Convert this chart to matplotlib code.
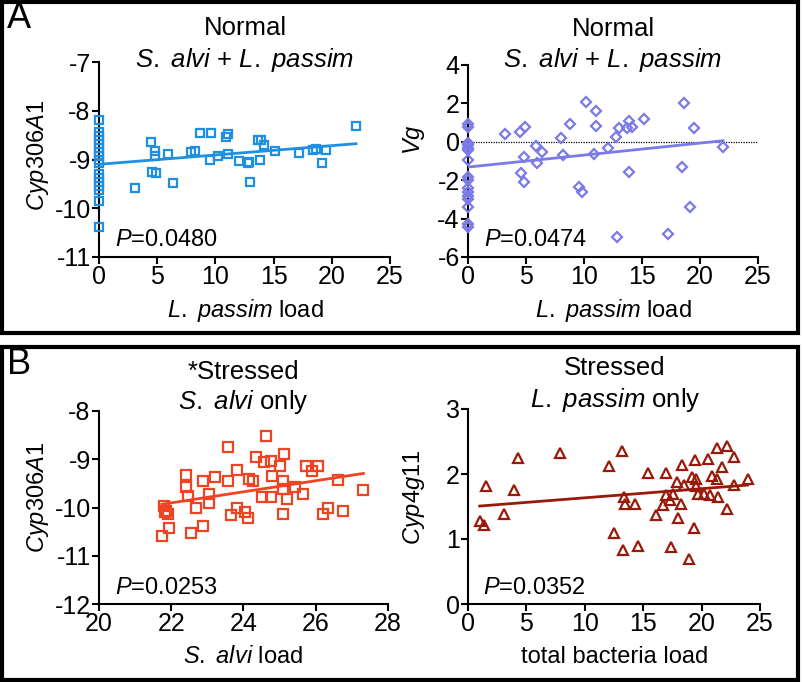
import matplotlib
matplotlib.use('Agg')
import matplotlib.pyplot as plt
import numpy as np
from matplotlib.patches import Rectangle

plt.rcParams['font.family'] = ['Liberation Sans', 'DejaVu Sans']
plt.rcParams['axes.unicode_minus'] = False
plt.rcParams['mathtext.fontset'] = 'custom'
plt.rcParams['mathtext.rm'] = 'Liberation Sans'
plt.rcParams['mathtext.it'] = 'Liberation Sans:italic'
plt.rcParams['font.size'] = 17

# A, left: Cyp306A1 vs L. passim load (normal)
a1_x = [0] * 17 + [3.07, 4.44, 4.59, 4.87, 4.8, 4.8, 5.96, 6.36, 7.94, 8.23, 8.69, 9.66,
                   9.55, 10.24, 10.87, 11.1, 11.04, 12.07, 12.76, 12.85, 13.0, 13.82, 13.62,
                   13.96, 14.16, 15.14, 17.2, 18.4, 18.68, 19.47, 19.12, 22.08]
a1_y = [-8.19, -8.44, -8.52, -8.60, -8.68, -8.76, -8.84, -8.92, -9.0, -9.08, -9.30, -9.38,
        -9.46, -9.54, -9.62, -9.85, -10.38,
        -9.58, -8.65, -9.26, -9.28, -8.83, -8.93, -8.89, -9.48, -8.84, -8.83, -8.46, -8.45,
        -9.0, -8.92, -8.53, -8.48, -8.89, -9.03, -9.08, -9.06, -9.47, -9.02, -8.60,
        -8.61, -8.70, -8.82, -8.87, -8.80, -8.79, -8.80, -9.07, -8.32]

# A, right: Vg vs L. passim load (normal)
a2_x = [0] * 16 + [3.15, 4.44, 4.9, 4.56, 4.85, 4.87, 5.88, 5.94, 6.42, 8.03, 8.23, 8.77,
                   9.58, 9.8, 10.15, 10.87, 11.04, 11.07, 12.1, 12.79, 12.99, 12.82, 13.68,
                   13.9, 14.16, 13.88, 15.14, 17.2, 18.43, 18.6, 19.12, 19.44, 21.99]
a2_y = [0.95, 0.75, -0.05, -0.15, -0.3, -0.45, -0.95, -1.85, -2.0, -2.4, -2.6, -2.8, -3.0,
        -3.4, -4.3, -4.45,
        0.43, 0.49, 0.78, -1.65, -2.09, -0.78, -0.21, -1.13, -0.52, 0.21, -0.71, 0.92,
        -2.35, -2.64, 2.05, -0.61, 1.60, 0.82, -0.30, 0.26, 0.70, -4.96, 0.73, 1.08,
        0.78, -1.57, 1.18, -4.78, -1.30, 2.03, -3.39, 0.73, -0.26]

# B, left: Cyp306A1 vs S. alvi load (stressed)
b1_x = [21.74, 21.79, 21.85, 21.91, 21.94, 21.82, 22.42, 22.40, 22.45, 22.56, 22.69, 22.89,
        22.89, 23.05, 23.04, 23.2, 23.57, 23.56, 23.65, 23.81, 23.81, 24.03, 24.13, 24.15,
        24.26, 24.35, 24.5, 24.58, 24.63, 24.75, 24.77, 24.79, 25.0, 25.11, 25.09, 25.1,
        25.1, 25.2, 25.42, 25.66, 25.72, 25.89, 26.07, 26.19, 26.33, 26.62, 26.75, 27.32]
b1_y = [-10.59, -9.96, -10.07, -10.13, -10.42, -10.10, -9.33, -9.58, -9.76, -10.52, -10.02,
        -9.45, -10.38, -9.73, -9.91, -9.36, -8.75, -9.46, -10.15, -9.23, -10.0, -10.09,
        -10.21, -9.40, -9.45, -8.96, -9.78, -9.05, -8.51, -9.78, -9.03, -9.34, -9.13, -8.90,
        -9.45, -9.62, -10.13, -9.83, -9.58, -9.73, -9.14, -9.24, -9.13, -10.13, -10.0,
        -9.42, -10.07, -9.63]

# B, right: Cyp4g11 vs total bacteria load (stressed)
b2_x = [1.0, 1.4, 1.51, 3.05, 3.96, 4.28, 7.84, 12.03, 12.51, 13.17, 13.34, 13.45, 13.31,
        14.28, 14.54, 15.37, 16.13, 16.7, 16.93, 16.93, 17.3, 17.36, 17.59, 17.9, 17.96,
        18.25, 18.36, 18.5, 18.93, 19.18, 19.33, 19.44, 19.5, 19.5, 19.65, 20.2, 20.58,
        20.7, 20.88, 21.3, 21.3, 21.43, 21.72, 22.15, 22.2, 22.8, 22.8, 23.95]
b2_y = [1.27, 1.22, 1.82, 1.39, 1.75, 2.24, 2.32, 2.13, 1.10, 2.35, 1.64, 1.54, 0.83, 1.54,
        0.89, 2.01, 1.37, 1.52, 2.01, 1.68, 1.60, 0.88, 1.70, 1.87, 1.33, 1.54, 2.14, 1.83,
        0.69, 1.96, 1.17, 2.21, 1.92, 1.82, 1.69, 1.70, 2.23, 1.67, 1.97, 1.92, 2.40, 1.65,
        2.11, 1.46, 2.43, 2.26, 1.83, 1.93]

fig = plt.figure(figsize=(8.02, 6.82), dpi=100)
W, H = 802, 682


def px_axes(l, t, r, b):
    return fig.add_axes([l / W, 1 - b / H, (r - l) / W, (b - t) / H])


def panel(ax, x, y, color, marker, ms, xlim, ylim, xticks, yticks):
    x = np.array(x)
    y = np.array(y)
    ax.plot(x, y, linestyle='none', marker=marker, ms=ms, mfc='none', mec=color,
            mew=1.6, clip_on=False, zorder=3)
    k, b = np.polyfit(x, y, 1)
    xs = np.array([x.min(), x.max()])
    ax.plot(xs, k * xs + b, color=color, lw=2, zorder=4)
    ax.set_xlim(xlim)
    ax.set_ylim(ylim)
    ax.set_xticks(xticks)
    ax.set_yticks(yticks)
    for s in ['top', 'right']:
        ax.spines[s].set_visible(False)
    for s in ['left', 'bottom']:
        ax.spines[s].set_linewidth(1.5)
    ax.tick_params(width=1.5, length=5, labelsize=18, pad=1)
    ax.set_facecolor('none')
    return ax


def label(x, y, s, size=17, **kw):
    fig.text(x / W, 1 - y / H, s, ha='center', va='center', fontsize=size, **kw)


ax1 = px_axes(99, 62, 390, 257)
panel(ax1, a1_x, a1_y, '#1f8fe0', 's', 6, (0, 25), (-11, -7), range(0, 26, 5),
      range(-11, -6))
ax2 = px_axes(468, 65, 758, 257)
ax2.axhline(0, color='black', lw=0.9, ls=(0, (1, 1)), zorder=2)
panel(ax2, a2_x, a2_y, '#7b7be8', 'D', 4.8, (0, 25), (-6, 4), range(0, 26, 5),
      range(-6, 5, 2))
ax3 = px_axes(99, 411, 388, 604)
panel(ax3, b1_x, b1_y, '#ee4422', 's', 7, (20, 28), (-12, -8), range(20, 29, 2),
      range(-12, -7))
ax4 = px_axes(468, 409, 760, 604)
panel(ax4, b2_x, b2_y, '#9a1a0a', '^', 6.5, (0, 25), (0, 3), range(0, 26, 5),
      range(0, 4))

# titles
label(245, 28, 'Normal', 18.5)
label(245, 60, r'$\it{S.\ alvi}$ + $\it{L.\ passim}$', 18.5)
label(613, 29, 'Normal', 18.5)
label(613, 60, r'$\it{S.\ alvi}$ + $\it{L.\ passim}$', 18.5)
label(243, 372, '*Stressed', 18.5)
label(243, 402, r'$\it{S.\ alvi}$ only', 18.5)
label(615, 368, 'Stressed', 18.5)
label(615, 400, r'$\it{L.\ passim}$ only', 18.5)

# axis labels
label(245, 310, r'$\it{L.\ passim}$ load')
label(613, 310, r'$\it{L.\ passim}$ load')
label(243, 657, r'$\it{S.\ alvi}$ load')
label(615, 657, 'total bacteria load')
label(38, 155, r'$\it{Cyp306A1}$', rotation=90)
label(414, 140, r'$\it{Vg}$', rotation=90)
label(38, 497, r'$\it{Cyp306A1}$', rotation=90)
label(414, 497, r'$\it{Cyp4g11}$', rotation=90)

# P values
for (x0, y0, s) in [(115, 240, '0.0480'), (484, 240, '0.0474'),
                    (115, 588, '0.0253'), (483, 588, '0.0352')]:
    fig.text(x0 / W, 1 - y0 / H, r'$\it{P}$=' + s, ha='left', va='center', fontsize=17)

# panel letters and frames
fig.text(7 / W, 1 - 19 / H, 'A', fontsize=26, ha='left', va='center')
fig.text(7 / W, 1 - 365 / H, 'B', fontsize=26, ha='left', va='center')
fig.add_artist(Rectangle((2 / W, 1 - 333 / H), 796 / W, 331 / H, transform=fig.transFigure,
                         fill=False, lw=3, ec='black'))
fig.add_artist(Rectangle((2 / W, 1 - 680 / H), 796 / W, 333 / H, transform=fig.transFigure,
                         fill=False, lw=3, ec='black'))

fig.savefig('out.png', dpi=100)
